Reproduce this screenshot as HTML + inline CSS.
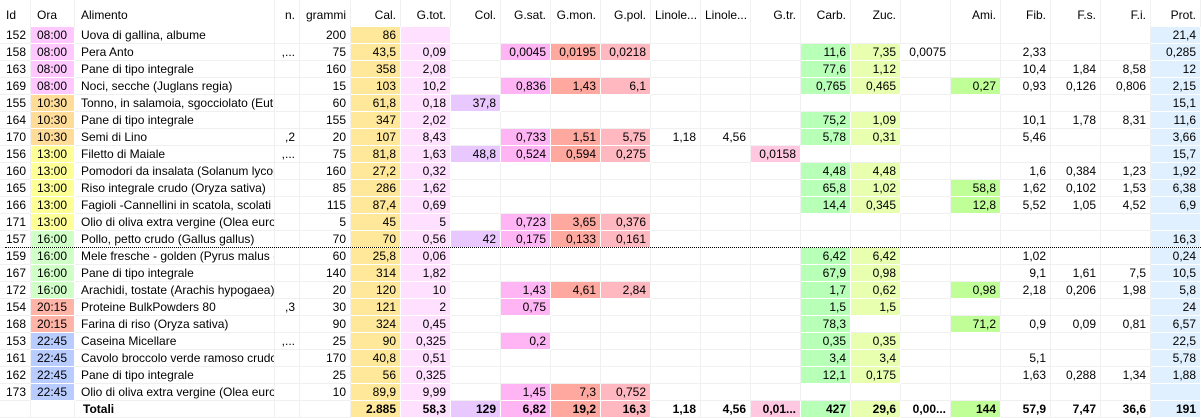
<!DOCTYPE html>
<html><head><meta charset="utf-8">
<style>
html,body{margin:0;padding:0;background:#fff;}
body{width:1201px;height:418px;position:relative;overflow:hidden;font-family:"Liberation Sans",sans-serif;font-size:12px;color:#000;}
.c{position:absolute;box-sizing:border-box;height:17px;line-height:17px;padding:0 4px;white-space:nowrap;overflow:hidden;border-right:1px solid #f0f0f0;border-bottom:1px solid #f0f0f0;}
.h{position:absolute;box-sizing:border-box;height:27px;line-height:30px;padding:0 4px;white-space:nowrap;overflow:hidden;border-right:1px solid #f0f0f0;}
.r{text-align:right;}
.b{font-weight:bold;}
#dots{position:absolute;left:5px;top:247px;width:1196px;border-top:1px dotted #000;}
</style></head>
<body>
<div id="hdr"></div>
<div id="body"></div>
<div id="dots"></div>
<script>
const colX=[0,31,75,275,300,351,401,451,501,551,601,651,701,751,801,851,901,951,1001,1051,1101,1151,1201];
const headers=["Id","Ora","Alimento","n.","grammi","Cal.","G.tot.","Col.","G.sat.","G.mon.","G.pol.","Linole...","Linole...","G.tr.","Carb.","Zuc.","","Ami.","Fib.","F.s.","F.i.","Prot."];
const colNames=["id","ora","alimento","n","grammi","cal","g-tot","col","g-sat","g-mon","g-pol","linoleic-1","linoleic-2","g-tr","carb","zuc","extra","ami","fib","f-s","f-i","prot"];
const colColors=[null,null,null,null,null,"#ffe899","#ffe0ff","#e8c8ff","#ffb4f4","#ffa8a0","#ffb8c0",null,null,"#ffc8e0","#b8ffb8","#e8ffb0",null,"#c0ff98",null,null,null,"#e0f0ff"];
const alwaysColored=[5,6,21];
const timeColors={"08:00":"#ffc8ff","10:30":"#ffdc98","13:00":"#ffff98","16:00":"#d0ffc8","20:15":"#ffb4a8","22:45":"#b8ccff"};
const rows=[
["152","08:00","Uova di gallina, albume","","200","86","","","","","","","","","","","","","","","","21,4"],
["158","08:00","Pera Anto",",...","75","43,5","0,09","","0,0045","0,0195","0,0218","","","","11,6","7,35","0,0075","","2,33","","","0,285"],
["163","08:00","Pane di tipo integrale","","160","358","2,08","","","","","","","","77,6","1,12","","","10,4","1,84","8,58","12"],
["169","08:00","Noci, secche (Juglans regia)","","15","103","10,2","","0,836","1,43","6,1","","","","0,765","0,465","","0,27","0,93","0,126","0,806","2,15"],
["155","10:30","Tonno, in salamoia, sgocciolato (Euth...","","60","61,8","0,18","37,8","","","","","","","","","","","","","","15,1"],
["164","10:30","Pane di tipo integrale","","155","347","2,02","","","","","","","","75,2","1,09","","","10,1","1,78","8,31","11,6"],
["170","10:30","Semi di Lino",",2","20","107","8,43","","0,733","1,51","5,75","1,18","4,56","","5,78","0,31","","","5,46","","","3,66"],
["156","13:00","Filetto di Maiale",",...","75","81,8","1,63","48,8","0,524","0,594","0,275","","","0,0158","","","","","","","","15,7"],
["160","13:00","Pomodori da insalata (Solanum lycope...","","160","27,2","0,32","","","","","","","","4,48","4,48","","","1,6","0,384","1,23","1,92"],
["165","13:00","Riso integrale crudo (Oryza sativa)","","85","286","1,62","","","","","","","","65,8","1,02","","58,8","1,62","0,102","1,53","6,38"],
["166","13:00","Fagioli -Cannellini in scatola, scolati (P...","","115","87,4","0,69","","","","","","","","14,4","0,345","","12,8","5,52","1,05","4,52","6,9"],
["171","13:00","Olio di oliva extra vergine (Olea europ...","","5","45","5","","0,723","3,65","0,376","","","","","","","","","","",""],
["157","16:00","Pollo, petto crudo (Gallus gallus)","","70","70","0,56","42","0,175","0,133","0,161","","","","","","","","","","","16,3"],
["159","16:00","Mele fresche - golden (Pyrus malus (M...","","60","25,8","0,06","","","","","","","","6,42","6,42","","","1,02","","","0,24"],
["167","16:00","Pane di tipo integrale","","140","314","1,82","","","","","","","","67,9","0,98","","","9,1","1,61","7,5","10,5"],
["172","16:00","Arachidi, tostate  (Arachis hypogaea)","","20","120","10","","1,43","4,61","2,84","","","","1,7","0,62","","0,98","2,18","0,206","1,98","5,8"],
["154","20:15","Proteine BulkPowders 80",",3","30","121","2","","0,75","","","","","","1,5","1,5","","","","","","24"],
["168","20:15","Farina di riso (Oryza sativa)","","90","324","0,45","","","","","","","","78,3","","","71,2","0,9","0,09","0,81","6,57"],
["153","22:45","Caseina Micellare",",...","25","90","0,325","","0,2","","","","","","0,35","0,35","","","","","","22,5"],
["161","22:45","Cavolo broccolo verde ramoso crudo ...","","170","40,8","0,51","","","","","","","","3,4","3,4","","","5,1","","","5,78"],
["162","22:45","Pane di tipo integrale","","25","56","0,325","","","","","","","","12,1","0,175","","","1,63","0,288","1,34","1,88"],
["173","22:45","Olio di oliva extra vergine (Olea europ...","","10","89,9","9,99","","1,45","7,3","0,752","","","","","","","","","","",""]
];
const totals=["","","Totali","","","2.885","58,3","129","6,82","19,2","16,3","1,18","4,56","0,01...","427","29,6","0,00...","144","57,9","7,47","36,6","191"];
const leftCols=[1,2,3];
const hdr=document.getElementById('hdr');
headers.forEach((t,i)=>{
  const d=document.createElement('div');
  d.className='h'+(leftCols.includes(i)&&i!==3?'':' r');
  d.style.left=colX[i]+'px';d.style.width=(colX[i+1]-colX[i])+'px';d.style.top='0px';
  if(i===1||i===2){d.style.paddingLeft='6px';}
  if(i===0){d.style.textAlign='left';d.style.paddingLeft='6px';}
  d.textContent=t;
  
  
  hdr.appendChild(d);
});
const body=document.getElementById('body');
function addRow(r,ri,isTotal){
  const top=27+ri*17;
  r.forEach((v,i)=>{
    const d=document.createElement('div');
    let cls='c';
    if(i===1||i===2){cls+='';}else cls+=' r';
    if(isTotal)cls+=' b';
    d.className=cls;
    d.style.left=colX[i]+'px';d.style.width=(colX[i+1]-colX[i])+'px';d.style.top=top+'px';
    if(i===1)d.style.paddingLeft='6px';
    if(i===2)d.style.paddingLeft=isTotal?'8px':'6px';
    let bg=null;
    if(i===1&&!isTotal)bg=timeColors[v];
    else if(colColors[i]&&(v!==''||alwaysColored.includes(i)))bg=colColors[i];
    if(bg)d.style.background=bg;
    d.style.borderColor=bg?'#ffffff':'#f0f0f0';
    d.textContent=v;
    
    
    body.appendChild(d);
  });
}
rows.forEach((r,ri)=>addRow(r,ri,false));
addRow(totals,rows.length,true);
</script>
</body></html>
